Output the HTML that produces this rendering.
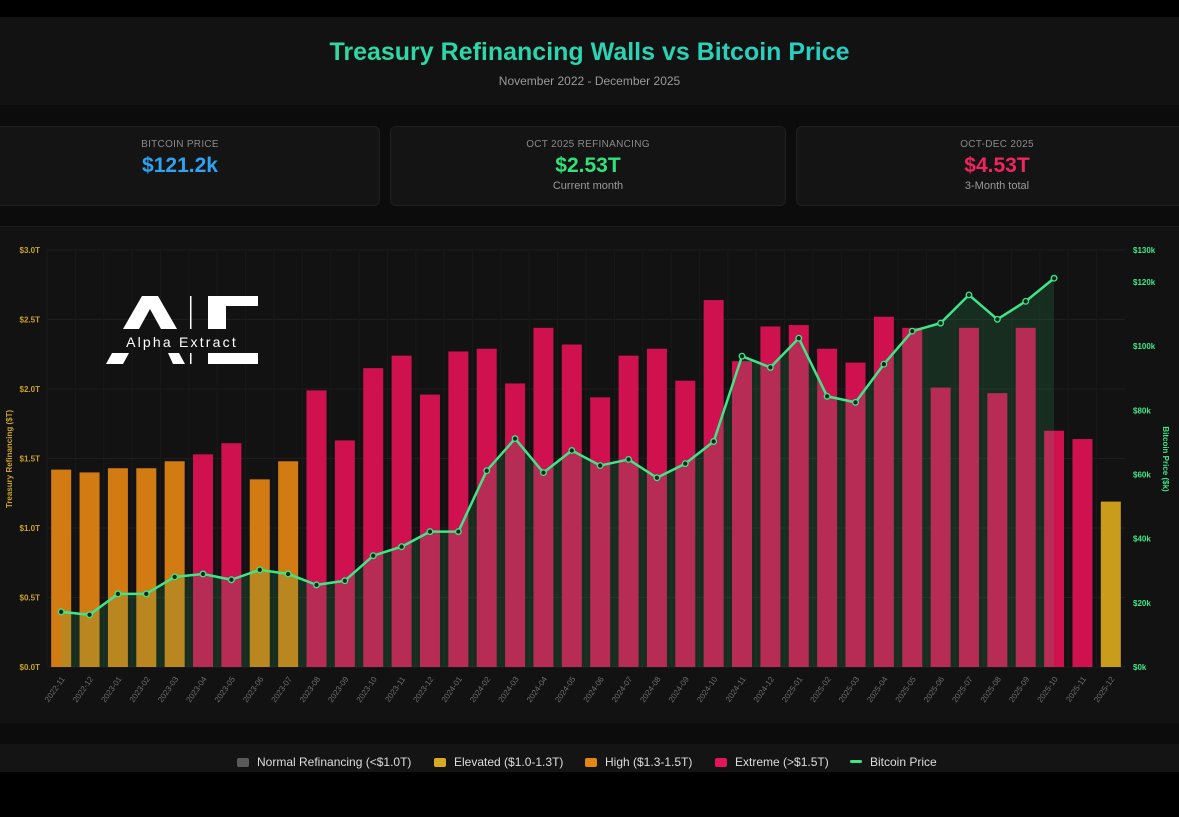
<!DOCTYPE html>
<html><head><meta charset="utf-8">
<style>
html,body{margin:0;padding:0;background:#000;width:1179px;height:817px;overflow:hidden;font-family:"Liberation Sans",sans-serif;}
.hdr{position:absolute;left:0;top:17px;width:1179px;height:88px;background:#121212;}
.title{position:absolute;top:21px;width:100%;text-align:center;font-size:25px;font-weight:bold;color:#2fe0a8;background:linear-gradient(90deg,#33e28a,#22c7d8);-webkit-background-clip:text;background-clip:text;-webkit-text-fill-color:transparent;}
.sub{position:absolute;top:57px;width:100%;text-align:center;font-size:12px;color:#9a9a9a;}
.band{position:absolute;left:0;top:105px;width:1179px;height:639px;background:#0c0c0c;}
.card{position:absolute;top:126px;height:78px;background:#141414;border:1px solid #1f1f1f;border-radius:6px;text-align:center;}
.card .l{margin-top:12px;font-size:10px;color:#8a8a8a;letter-spacing:.3px;}
.card .v{margin-top:4px;font-size:21px;font-weight:bold;}
.card .s{font-size:11px;color:#9a9a9a;margin-top:2px;}
.panel{position:absolute;left:0;top:226px;width:1179px;height:496px;background:#121212;border-top:1px solid #1c1c1c;}
.leg{position:absolute;left:0;top:744px;width:1179px;height:28px;background:#141414;font-size:12px;color:#ddd;}
.li{position:absolute;top:11px;height:14px;line-height:14px;}
.sw{display:inline-block;width:12px;height:9px;border-radius:2px;margin-right:8px;vertical-align:-1px;}
</style></head><body>
<div class="hdr">
<div class="title">Treasury Refinancing Walls vs Bitcoin Price</div>
<div class="sub">November 2022 - December 2025</div>
</div>
<div class="band"></div>
<div class="card" style="left:-20px;width:398px"><div class="l">BITCOIN PRICE</div><div class="v" style="color:#2ea3f2">$121.2k</div></div>
<div class="card" style="left:390px;width:394px"><div class="l">OCT 2025 REFINANCING</div><div class="v" style="color:#2fe37a">$2.53T</div><div class="s">Current month</div></div>
<div class="card" style="left:796px;width:400px"><div class="l">OCT-DEC 2025</div><div class="v" style="color:#f0245e">$4.53T</div><div class="s">3-Month total</div></div>
<div class="panel"></div>
<svg id="chart" width="1179" height="817" style="position:absolute;left:0;top:0"></svg>
<div class="leg">
<div class="li" style="left:237px"><span class="sw" style="background:#5a5a5a"></span>Normal Refinancing (&lt;$1.0T)</div>
<div class="li" style="left:434px"><span class="sw" style="background:#d6aa22"></span>Elevated ($1.0-1.3T)</div>
<div class="li" style="left:585px"><span class="sw" style="background:#e08716"></span>High ($1.3-1.5T)</div>
<div class="li" style="left:715px"><span class="sw" style="background:#e2145a"></span>Extreme (&gt;$1.5T)</div>
<div class="li" style="left:850px"><span class="sw" style="background:#3ee68a;height:3px;vertical-align:3px"></span>Bitcoin Price</div>
</div>
<script>
const months=["2022-11","2022-12","2023-01","2023-02","2023-03","2023-04","2023-05","2023-06","2023-07","2023-08","2023-09","2023-10","2023-11","2023-12","2024-01","2024-02","2024-03","2024-04","2024-05","2024-06","2024-07","2024-08","2024-09","2024-10","2024-11","2024-12","2025-01","2025-02","2025-03","2025-04","2025-05","2025-06","2025-07","2025-08","2025-09","2025-10","2025-11","2025-12"];
const refi=[1.42,1.40,1.43,1.43,1.48,1.53,1.61,1.35,1.48,1.99,1.63,2.15,2.24,1.96,2.27,2.29,2.04,2.44,2.32,1.94,2.24,2.29,2.06,2.64,2.20,2.45,2.46,2.29,2.19,2.52,2.44,2.01,2.44,1.97,2.44,1.70,1.64,1.19];
const btc=[17.2,16.3,22.8,22.8,28.1,29.0,27.2,30.3,29.0,25.6,26.9,34.7,37.5,42.2,42.2,61.2,71.2,60.6,67.5,62.8,64.7,59.0,63.4,70.3,96.9,93.4,102.5,84.4,82.5,94.4,104.7,107.2,116.0,108.4,114.0,121.2];
const leftTicks=["$0.0T","$0.5T","$1.0T","$1.5T","$2.0T","$2.5T","$3.0T"];
const leftVals=[0,0.5,1,1.5,2,2.5,3];
const rightTicks=["$0k","$20k","$40k","$60k","$80k","$100k","$120k","$130k"];
const rightVals=[0,20,40,60,80,100,120,130];

const NS="http://www.w3.org/2000/svg";
const svg=document.getElementById('chart');
const X0=47,X1=1125,Y0=667,Y1=250;
const step=(X1-X0)/months.length;
const xc=i=>X0+step*(i+0.5);
const yL=v=>Y0-(v/3)*(Y0-Y1);
const yR=v=>Y0-(v/130)*(Y0-Y1);
function mk(t,a,p){const e=document.createElementNS(NS,t);for(const k in a)e.setAttribute(k,a[k]);(p||svg).appendChild(e);return e;}
leftVals.forEach(v=>{const l=mk('line',{x1:X0,x2:X1,y1:yL(v),y2:yL(v),stroke:'#1e1e1e','stroke-width':1});

});
months.forEach((m,i)=>{const l=mk('line',{x1:X0+step*i,x2:X0+step*i,y1:Y1,y2:Y0,stroke:'#191919','stroke-width':1});

});
function col(v){return v<1?'#5a5a5a':v<1.3?'#c99c1c':v<1.5?'#d27b12':'#cf1150';}
refi.forEach((v,i)=>{const r=mk('rect',{x:xc(i)-10,y:yL(v),width:20,height:Y0-yL(v),fill:col(v)});

});
let pts=btc.map((v,i)=>[xc(i),yR(v)]);
let d='M'+pts.map(p=>p[0]+','+p[1]).join('L');
const area=mk('path',{d:d+'L'+pts[pts.length-1][0]+','+Y0+'L'+pts[0][0]+','+Y0+'Z',fill:'rgba(46,204,113,0.15)'});


const line=mk('path',{d:d,fill:'none',stroke:'#3ee68a','stroke-width':2.5,'stroke-linejoin':'round'});


pts.forEach((p,i)=>{const c=mk('circle',{cx:p[0],cy:p[1],r:2.8,fill:'#10261a',stroke:'#3ee68a','stroke-width':1.3});

});
leftVals.forEach((v,i)=>{const t=mk('text',{x:40,y:yL(v)+3,'text-anchor':'end','font-size':8,'font-weight':'bold',fill:'#c9a227'});t.textContent=leftTicks[i];

});
rightVals.forEach((v,i)=>{const t=mk('text',{x:1133,y:yR(v)+3,'font-size':8,'font-weight':'bold',fill:'#3ee68a'});t.textContent=rightTicks[i];

});
months.forEach((m,i)=>{const t=mk('text',{x:0,y:0,'text-anchor':'end','font-size':8,fill:'#6f6f6f',transform:`translate(${xc(i)+4},${Y0+12}) rotate(-55)`});t.textContent=m;

});
const yt=mk('text',{x:0,y:0,'text-anchor':'middle','font-size':8,'font-weight':'bold',fill:'#c9a227',transform:'translate(12,459) rotate(-90)'});yt.textContent='Treasury Refinancing ($T)';


const yr=mk('text',{x:0,y:0,'text-anchor':'middle','font-size':8,'font-weight':'bold',fill:'#3ee68a',transform:'translate(1163,459) rotate(90)'});yr.textContent='Bitcoin Price ($k)';


const g=mk('g',{});


mk('polygon',{points:'123,329 142,296 158,296 177,329 161,329 150,309 139,329',fill:'#fff'},g);
mk('polygon',{points:'106,364 112,353 129,353 123,364',fill:'#fff'},g);
mk('polygon',{points:'168,353 179,353 185,364 173,364',fill:'#fff'},g);
mk('rect',{x:190,y:296,width:1.5,height:33,fill:'#fff'},g);
mk('rect',{x:190,y:353,width:1.5,height:11,fill:'#fff'},g);
mk('rect',{x:208,y:296,width:50,height:10,fill:'#fff'},g);
mk('rect',{x:208,y:296,width:18,height:33,fill:'#fff'},g);
mk('rect',{x:208,y:353,width:50,height:11,fill:'#fff'},g);
const lt=mk('text',{x:182,y:347,'text-anchor':'middle','font-size':14,fill:'#fff','letter-spacing':'2.2'},g);lt.textContent='Alpha Extract';
</script>
</body></html>
